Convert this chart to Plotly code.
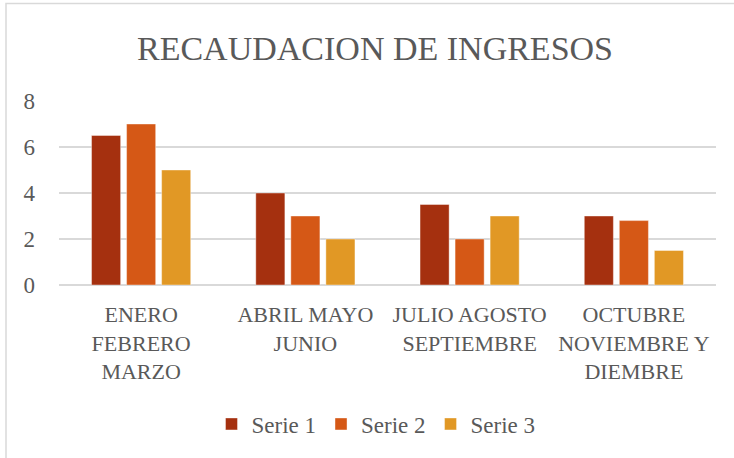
import plotly.graph_objects as go

categories = ["ENERO<br>FEBRERO<br>MARZO", "ABRIL MAYO<br>JUNIO", "JULIO AGOSTO<br>SEPTIEMBRE", "OCTUBRE<br>NOVIEMBRE Y<br>DIEMBRE"]
serie1 = [6.5, 4, 3.5, 3]
serie2 = [7, 3, 2, 2.8]
serie3 = [5, 2, 3, 1.5]
series_names = ["Serie 1", "Serie 2", "Serie 3"]
colors = ["#A5300F", "#D55816", "#E19825"]
y_ticks = [0, 2, 4, 6, 8]

FONT = "Liberation Serif"
TXT = "#595959"

fig = go.Figure()
for name, vals, col in zip(series_names, [serie1, serie2, serie3], colors):
    fig.add_trace(go.Bar(x=categories, y=vals, name=name,
                         marker=dict(color=col, line=dict(color="rgba(255,255,255,0.5)", width=0.8))))

L, R, T, B = 59, 18, 101, 173
W, H = 734, 458
pw, ph = W - L - R, H - T - B

def px(x):
    return (x - L) / pw

def py(y):
    return (H - B - y) / ph

fig.update_layout(
    width=W, height=H,
    margin=dict(l=L, r=R, t=T, b=B),
    paper_bgcolor="white", plot_bgcolor="white",
    font=dict(family=FONT, color=TXT, size=22),
    title=dict(text="RECAUDACION DE INGRESOS", x=px(375), xref="paper", xanchor="center",
               y=1 - 48 / H, yanchor="middle", font=dict(size=34, family=FONT, color=TXT)),
    barmode="group", bargap=0.36, bargroupgap=0.17,
    showlegend=True,
    legend=dict(orientation="h", x=px(376), xanchor="center", y=py(424), yanchor="middle",
                font=dict(size=23, family=FONT, color=TXT), itemwidth=30, traceorder="normal"),
    xaxis=dict(showgrid=False, showline=False, ticks="", tickfont=dict(size=22),
               ticklabelstandoff=14),
    yaxis=dict(range=[0, 8], tickvals=y_ticks, showgrid=True, gridcolor="#D9D9D9", gridwidth=1.5,
               zeroline=True, zerolinecolor="#D9D9D9", zerolinewidth=1.5, showline=False,
               ticks="", tickfont=dict(size=23), ticklabelstandoff=23),
    shapes=[dict(type="rect", xref="paper", yref="paper", x0=px(6), x1=px(745), y0=py(470), y1=py(3.5),
                 line=dict(color="#D9D9D9", width=1.5), fillcolor="rgba(0,0,0,0)", layer="below")],
)

fig.write_html("out.html", config={"displayModeBar": False},
               post_script="document.body.style.margin='0';document.body.style.padding='0';")
